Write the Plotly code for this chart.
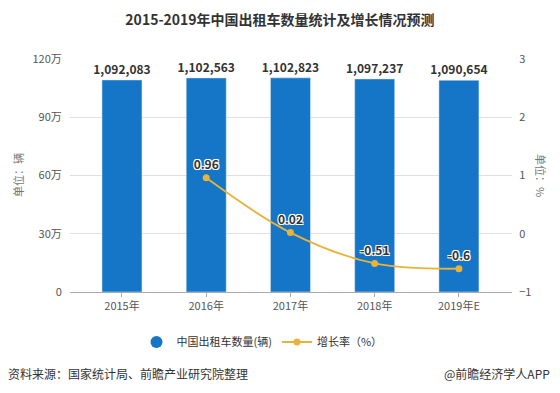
import plotly.graph_objects as go

years = ["2015年", "2016年", "2017年", "2018年", "2019年E"]
taxis = [1092083, 1102563, 1102823, 1097237, 1090654]
growth_years = ["2016年", "2017年", "2018年", "2019年E"]
growth = [0.96, 0.02, -0.51, -0.6]
left_ticks = [0, 300000, 600000, 900000, 1200000]
left_tick_text = ["0", "30万", "60万", "90万", "120万"]
right_ticks = [-1, 0, 1, 2, 3]

BLUE = "#1575C6"
ORANGE = "#E9B23A"
FONT = "Noto Sans CJK SC"

OFF = 8  # page body margin
W, H = 560 - OFF, 393 - OFF
# plot area in reference pixel coords
PX0, PX1, PY0, PY1 = 70, 512, 59, 292
L, R, T, B = PX0 - OFF, W - (PX1 - OFF), PY0 - OFF, H - (PY1 - OFF)
pw, ph = PX1 - PX0, PY1 - PY0


def px(rx):
    return (rx - PX0) / pw


def py(ry):
    return 1 - (ry - PY0) / ph


fig = go.Figure()
fig.add_trace(go.Bar(
    x=years, y=taxis, marker_color=BLUE, width=0.475,
    text=[f"{v:,}" for v in taxis], textposition="outside", constraintext="none",
    textfont=dict(size=12, color="#333", family=FONT, weight="bold"),
    cliponaxis=False, showlegend=False, name="中国出租车数量(辆)",
))
fig.add_trace(go.Scatter(
    x=[None], y=[None], mode="markers", name="中国出租车数量(辆)",
    marker=dict(symbol="circle", size=12, color=BLUE),
))
fig.add_trace(go.Scatter(
    x=growth_years, y=growth, yaxis="y2", mode="lines+markers+text",
    line=dict(color=ORANGE, width=1.8, shape="spline", smoothing=1.0),
    marker=dict(color=ORANGE, size=7),
    text=[str(v) for v in growth], textposition="top center",
    textfont=dict(size=12, color="#333", family=FONT, weight="bold",
                  shadow="1px 1px 0 white, -1px -1px 0 white, 1px -1px 0 white, -1px 1px 0 white"),
    name="增长率（%）", cliponaxis=False,
))

fig.update_layout(
    width=W, height=H,
    margin=dict(l=L, r=R, t=T, b=B),
    paper_bgcolor="white", plot_bgcolor="white",
    font=dict(family=FONT, color="#555", size=11),
    title=dict(text="<b>2015-2019年中国出租车数量统计及增长情况预测</b>",
               x=(280 - OFF) / W, xanchor="center", y=1 - (20 - OFF) / H, yanchor="middle",
               font=dict(size=14, color="#333", family=FONT)),
    xaxis=dict(range=[-0.617, 4.63], showgrid=False, showline=True,
               linecolor="#aaa", linewidth=1, ticks="outside", ticklen=4,
               tickcolor="#aaa", tickfont=dict(size=11, color="#555")),
    yaxis=dict(range=[0, 1200000], tickvals=left_ticks, ticktext=left_tick_text,
               showgrid=True, gridcolor="#e0e0e0", zeroline=False,
               ticks="outside", ticklen=5, tickcolor="rgba(0,0,0,0)",
               tickfont=dict(size=11, color="#555")),
    yaxis2=dict(range=[-1, 3], tickvals=right_ticks, overlaying="y", side="right",
                showgrid=False, zeroline=False, ticks="outside", ticklen=4,
                tickcolor="rgba(0,0,0,0)", tickfont=dict(size=11, color="#555")),
    legend=dict(orientation="h", x=px(262), xanchor="center",
                y=py(342), yanchor="middle",
                font=dict(size=11, color="#333", family=FONT),
                traceorder="normal", itemwidth=30),
    annotations=[
        dict(text="单位：辆", xref="paper", yref="paper", x=px(18), y=py(175),
             textangle=-90, showarrow=False, font=dict(size=11, color="#777", family=FONT),
             xanchor="center", yanchor="middle"),
        dict(text="单位：%", xref="paper", yref="paper", x=px(541), y=py(175),
             textangle=90, showarrow=False, font=dict(size=11, color="#777", family=FONT),
             xanchor="center", yanchor="middle"),
        dict(text="资料来源：国家统计局、前瞻产业研究院整理", xref="paper", yref="paper",
             x=px(6), y=py(373), xanchor="left", yanchor="middle",
             showarrow=False, font=dict(size=12, color="#333", family=FONT)),
        dict(text="@前瞻经济学人APP", xref="paper", yref="paper",
             x=px(552), y=py(373), xanchor="right",
             yanchor="middle", showarrow=False, font=dict(size=12, color="#333", family=FONT)),
    ],
)

fig.write_html("out.html")
